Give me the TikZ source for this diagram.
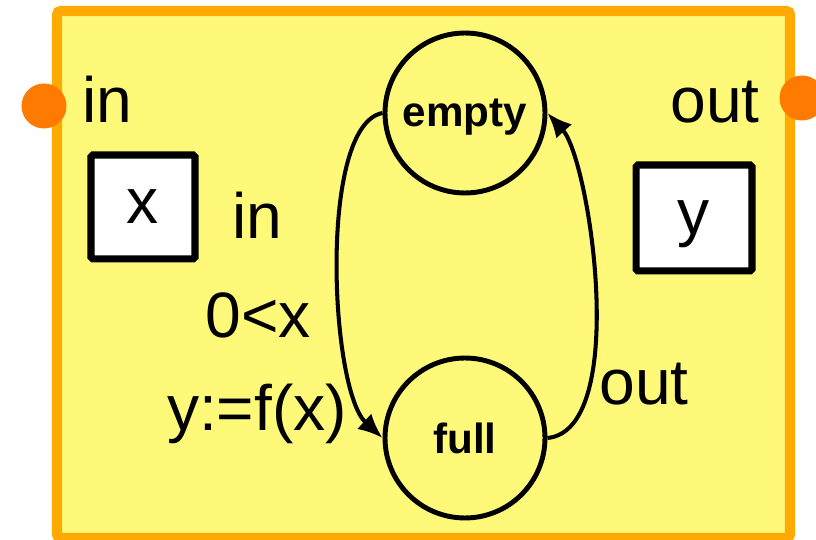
\documentclass[tikz,border=0pt]{standalone}
\usepackage{fontspec}
\setmainfont{Liberation Sans}
\usetikzlibrary{arrows.meta}
\definecolor{blockyellow}{RGB}{255,249,122}
\definecolor{blockorange}{RGB}{255,170,0}
\definecolor{portorange}{RGB}{255,122,0}
\tikzset{
  state/.style={circle, draw, line width=2.8pt, minimum size=3.2cm, inner sep=0pt,
    text depth=0pt, font=\fontsize{24}{28}\selectfont\bfseries},
  varbox/.style={draw, fill=white, line width=4pt, rounded corners=1pt, inner sep=0pt,
    text height=26pt, text depth=7.7pt, font=\fontsize{36.5}{40}\selectfont},
  lbl/.style={inner sep=0pt, font=\fontsize{36.5}{40}\selectfont},
  port/.style={circle, fill=portorange, minimum size=0.9cm, inner sep=0pt},
  trans/.style={-{Latex[length=14pt,width=12pt]}, line width=2.3pt},
}
\begin{document}
\begin{tikzpicture}[x=0.02cm, y=-0.02cm]
    \useasboundingbox (0,0) rectangle (816,540);
    \clip (0,0) rectangle (816,540);
    % Bloc
    \draw[fill=blockyellow, draw=blockorange, line width=5.7pt, rounded corners=2pt]
        (57,11) rectangle (790,538);
    \node[port] (pin) at (44,106) {};
    \node[port] (pout) at (802,98) {};
    % Variables
    \node[varbox, minimum width=2.08cm, minimum height=2.08cm] (x) at (143,207) {x};
    \node[varbox, minimum width=2.32cm, minimum height=2.12cm] (y) at (694,218) {y};
    \node[lbl] (lin) at (107,99) {in};
    \node[lbl] (lout) at (715,102) {out};
    % Automate
    \node[state] (empty) at (465,113) {empty};
    \node[state] (full) at (465,438) {full};
    \draw[trans] (empty.west) .. controls (318,125) and (330,390) .. (full.west);
    \draw[trans] (full.east) .. controls (630,430) and (590,160) .. (empty.east);
    % Labels
    \node[lbl] (tin) at (257,215) {in};
    \node[lbl] (guard) at (258,315) {0<x};
    \node[lbl] (act) at (257,414) {y:=f(x)};
    \node[lbl] (tout) at (644,384) {out};
\end{tikzpicture}
\end{document}
